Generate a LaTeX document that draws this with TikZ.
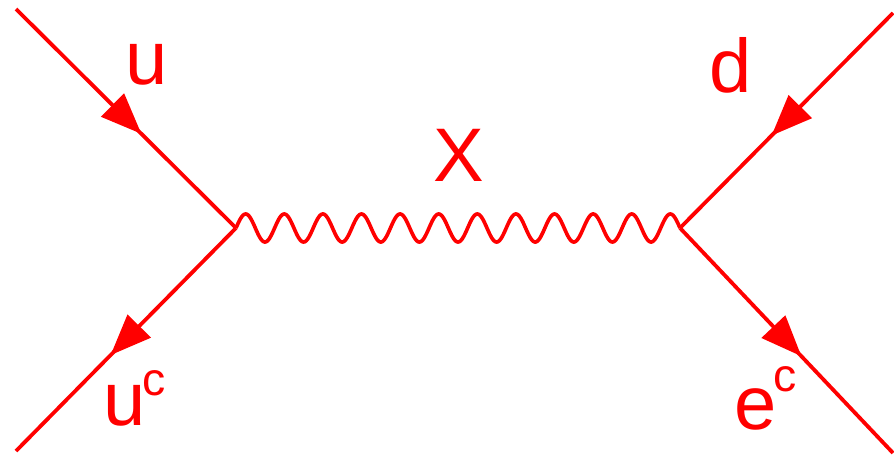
\documentclass[tikz,border=0pt]{standalone}
\usepackage{fontspec}
\setmainfont{Liberation Sans}
\usepackage{tikz}
\usetikzlibrary{arrows.meta,decorations.markings}
\definecolor{quark}{HTML}{FF0000}
\newcommand{\supc}[1]{\kern-2pt\raisebox{#1}{\fontsize{33}{33}\selectfont c}}
\tikzset{fermion/.style={draw=quark,line width=2.7pt,postaction={decorate},
  decoration={markings,mark=at position 0.57 with
  {\arrow{Triangle[length=1.02cm,width=0.8cm]}}}},
  boson/.style={draw=quark,line width=2.6pt,line join=round},
  lbl/.style={text=quark,inner sep=0pt,font=\fontsize{54}{54}\selectfont}}
\begin{document}
\begin{tikzpicture}[x=0.025cm,y=-0.025cm]
\useasboundingbox (0,0) rectangle (894,455);
\coordinate (uin) at (16,9);
\coordinate (ucout) at (16,451);
\coordinate (vl) at (236,228);
\coordinate (vr) at (680,228);
\coordinate (din) at (893,13);
\coordinate (ecout) at (893,453);
\draw[fermion] (uin) -- (vl);
\draw[fermion] (vl) -- (ucout);
\draw[fermion] (din) -- (vr);
\draw[fermion] (vr) -- (ecout);
% wave of the X boson, 11.5 periods
\draw[boson,shift={(vl)}] plot[domain=0:444,samples=500,smooth]
  (\x,{-14*sin(\x/444*11.5*360)});
\node[lbl,anchor=base] (ulbl) at (146.5,84) {u};
\node[lbl,anchor=base] (dlbl) at (731,92) {d};
\node[lbl,anchor=base] (xlbl) at (458.5,181) {X};
\node[lbl,anchor=base west] (uclbl) at (103,425) {u\supc{21pt}};
\node[lbl,anchor=base west] (eclbl) at (734,429) {e\supc{27pt}};
\end{tikzpicture}
\end{document}
